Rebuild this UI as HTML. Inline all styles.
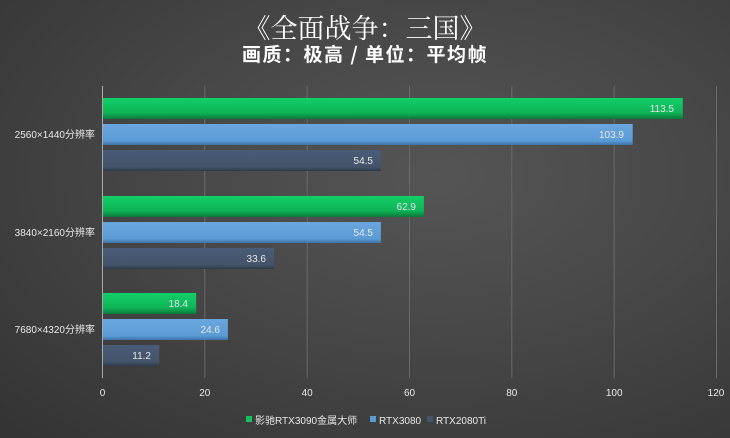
<!DOCTYPE html>
<html><head><meta charset="utf-8"><style>
html,body{margin:0;padding:0;width:730px;height:438px;overflow:hidden}
body{background:radial-gradient(ellipse at 60% 40%,#555 0%,#474747 45%,#333 100%);font-family:"Liberation Sans","Noto Sans CJK SC",sans-serif}
</style></head><body>
<svg width="730" height="438" xmlns="http://www.w3.org/2000/svg" style="position:absolute;left:0;top:0">
<defs>
<linearGradient id="g" x1="0" y1="0" x2="0" y2="1"><stop offset="0" stop-color="#12cf68"/><stop offset="0.7" stop-color="#0fb458"/><stop offset="1" stop-color="#0a7a3c"/></linearGradient>
<linearGradient id="b" x1="0" y1="0" x2="0" y2="1"><stop offset="0" stop-color="#6aa6e0"/><stop offset="0.8" stop-color="#5b9bd5"/><stop offset="1" stop-color="#3e72a5"/></linearGradient>
<linearGradient id="d" x1="0" y1="0" x2="0" y2="1"><stop offset="0" stop-color="#4a5b78"/><stop offset="0.8" stop-color="#44546a"/><stop offset="1" stop-color="#2f3a4a"/></linearGradient>
</defs>
<g font-family="'Noto Sans CJK SC',sans-serif" fill="#fff" text-anchor="middle">
<text x="365" y="38" font-size="27" font-family="'Noto Serif CJK SC',serif">《全面战争：三国》</text>
<text x="365" y="61" font-size="19" font-weight="bold" letter-spacing="1.5">画质：极高 / 单位：平均帧</text>
</g>
<g stroke="#6a6a6a" stroke-width="1">
<line x1="204.8" y1="86" x2="204.8" y2="378"/><line x1="307.2" y1="86" x2="307.2" y2="378"/>
<line x1="409.5" y1="86" x2="409.5" y2="378"/><line x1="511.8" y1="86" x2="511.8" y2="378"/>
<line x1="614.2" y1="86" x2="614.2" y2="378"/><line x1="716.5" y1="86" x2="716.5" y2="378"/>
</g>
<line x1="102.5" y1="86" x2="102.5" y2="378" stroke="#aaa" stroke-width="1"/>
<g>
<rect x="103" y="98" width="579.8" height="21" fill="url(#g)"/>
<rect x="103" y="124" width="529.7" height="21" fill="url(#b)"/>
<rect x="103" y="150" width="277.9" height="21" fill="url(#d)"/>
<rect x="103" y="196" width="320.9" height="21" fill="url(#g)"/>
<rect x="103" y="222" width="277.9" height="21" fill="url(#b)"/>
<rect x="103" y="248" width="171" height="21" fill="url(#d)"/>
<rect x="103" y="293" width="93.2" height="21" fill="url(#g)"/>
<rect x="103" y="319" width="124.9" height="21" fill="url(#b)"/>
<rect x="103" y="345" width="56.3" height="21" fill="url(#d)"/>
</g>
<g font-size="10" fill="#e8e8e8" text-anchor="end">
<text x="674" y="112">113.5</text><text x="624" y="138">103.9</text><text x="373" y="164">54.5</text>
<text x="416" y="210">62.9</text><text x="373" y="236">54.5</text><text x="266" y="262">33.6</text>
<text x="188" y="307">18.4</text><text x="220" y="333">24.6</text><text x="151" y="359">11.2</text>
</g>
<g font-size="10" fill="#e8e8e8" text-anchor="end">
<text x="95" y="138">2560×1440分辨率</text>
<text x="95" y="236">3840×2160分辨率</text>
<text x="95" y="333">7680×4320分辨率</text>
</g>
<g font-size="10" fill="#e8e8e8" text-anchor="middle">
<text x="102.5" y="396">0</text><text x="204.8" y="396">20</text><text x="307.2" y="396">40</text>
<text x="409.5" y="396">60</text><text x="511.8" y="396">80</text><text x="614.2" y="396">100</text><text x="716" y="396">120</text>
</g>
<g font-size="10" fill="#e8e8e8">
<rect x="246" y="416" width="6" height="6" fill="#12c060"/><text x="255" y="424">影驰RTX3090金属大师</text>
<rect x="370" y="416" width="6" height="6" fill="#5b9bd5"/><text x="379" y="424">RTX3080</text>
<rect x="427" y="416" width="6" height="6" fill="#44546a"/><text x="436" y="424">RTX2080Ti</text>
</g>
</svg>
</body></html>
